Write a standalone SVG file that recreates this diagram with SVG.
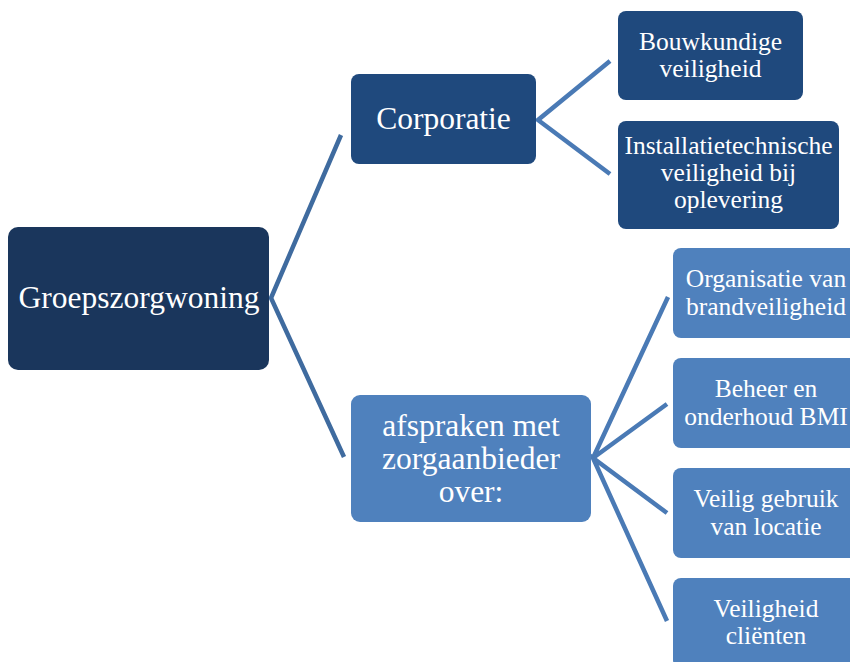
<svg xmlns="http://www.w3.org/2000/svg" width="850" height="662" viewBox="0 0 850 662">
<style>
.t{font-family:"Liberation Serif","Times New Roman",serif;fill:#ffffff;text-anchor:middle}
.l1{font-size:31.5px}
.l3{font-size:25.5px}
.c{fill:none;stroke-width:4.5;stroke-linecap:butt;stroke-linejoin:miter}
.c0{stroke:#3F6B9F}
.c1{stroke:#4A7AB5}
</style>
<rect width="850" height="662" fill="#ffffff"/>
<g id="connectors">
<polyline class="c c0" points="341,135 271,298 344,457"/>
<polyline class="c c1" points="610,61 538,120 610,174"/>
<polyline class="c c1" points="668,297 593,458 667,404"/>
<polyline class="c c1" points="667,513 593,458 667,621"/>
</g>
<g id="root">
<rect x="8" y="227" width="261" height="143" rx="10" fill="#1A365C"/>
<text class="t l1" x="139" y="308">Groepszorgwoning</text>
</g>
<g id="corporatie">
<rect x="351" y="74" width="185" height="90" rx="8" fill="#1F497D"/>
<text class="t l1" x="443.5" y="129">Corporatie</text>
</g>
<g id="bouwkundige">
<rect x="618" y="11" width="185" height="89" rx="8" fill="#1F497D"/>
<text class="t l3" x="710.5" y="50">Bouwkundige</text>
<text class="t l3" x="710.5" y="77">veiligheid</text>
</g>
<g id="installatie">
<rect x="618" y="121" width="221" height="108" rx="8" fill="#1F497D"/>
<text class="t l3" x="728.5" y="154">Installatietechnische</text>
<text class="t l3" x="728.5" y="181">veiligheid bij</text>
<text class="t l3" x="728.5" y="208">oplevering</text>
</g>
<g id="afspraken">
<rect x="351" y="395" width="240" height="127" rx="9" fill="#4F81BD"/>
<text class="t l1" x="471" y="436">afspraken met</text>
<text class="t l1" x="471" y="469">zorgaanbieder</text>
<text class="t l1" x="471" y="502">over:</text>
</g>
<g id="organisatie">
<rect x="673" y="248" width="186" height="90" rx="8" fill="#4F81BD"/>
<text class="t l3" x="766" y="287">Organisatie van</text>
<text class="t l3" x="766" y="315">brandveiligheid</text>
</g>
<g id="beheer">
<rect x="673" y="358" width="186" height="90" rx="8" fill="#4F81BD"/>
<text class="t l3" x="766" y="397">Beheer en</text>
<text class="t l3" x="766" y="425">onderhoud BMI</text>
</g>
<g id="veilig-gebruik">
<rect x="673" y="468" width="186" height="90" rx="8" fill="#4F81BD"/>
<text class="t l3" x="766" y="507">Veilig gebruik</text>
<text class="t l3" x="766" y="535">van locatie</text>
</g>
<g id="veiligheid-clienten">
<rect x="673" y="578" width="186" height="90" rx="8" fill="#4F81BD"/>
<text class="t l3" x="766" y="617">Veiligheid</text>
<text class="t l3" x="766" y="644">cliënten</text>
</g>
</svg>
